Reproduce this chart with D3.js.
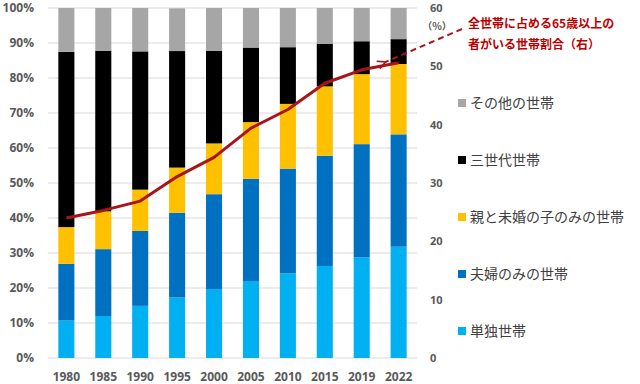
<!DOCTYPE html>
<html>
<head>
<meta charset="utf-8">
<script src="https://cdn.jsdelivr.net/npm/d3@7"></script>
<style>
  body { margin: 0; background: #fff; }
  svg { display: block; }
</style>
</head>
<body>
<svg id="chart" width="640" height="384"></svg>
<script>
const years = ["1980", "1985", "1990", "1995", "2000", "2005", "2010", "2015", "2019", "2022"]
const single = [10.7, 12.0, 14.9, 17.3, 19.7, 22.0, 24.2, 26.3, 28.8, 31.8]
const couple = [16.2, 19.1, 21.4, 24.2, 27.1, 29.2, 29.9, 31.5, 32.3, 32.1]
const parentChild = [10.5, 10.8, 11.8, 12.9, 14.5, 16.2, 18.5, 19.8, 20.0, 20.1]
const threeGen = [50.1, 45.9, 39.5, 33.3, 26.5, 21.3, 16.2, 12.2, 9.4, 7.1]
const other = [12.5, 12.2, 12.4, 12.2, 12.3, 11.3, 11.2, 10.2, 9.5, 9.0]
const elderShare = [24.0, 25.3, 26.9, 31.1, 34.4, 39.4, 42.6, 47.1, 49.4, 50.6]

const seriesKeys = ["single", "couple", "parentChild", "threeGen", "other"]
const seriesNames = ["単独世帯", "夫婦のみの世帯", "親と未婚の子のみの世帯", "三世代世帯", "その他の世帯"]
const seriesColors = ["#00b0f0", "#0070c0", "#ffc000", "#000000", "#a6a6a6"]
const leftTicks = [0, 10, 20, 30, 40, 50, 60, 70, 80, 90, 100]
const rightTicks = [0, 10, 20, 30, 40, 50, 60]

const rows = years.map((yr, i) => ({
    year: yr,
    single: single[i],
    couple: couple[i],
    parentChild: parentChild[i],
    threeGen: threeGen[i],
    other: other[i],
    share: elderShare[i]
}))

const svg = d3.select("#chart")
const plotLeft = 48, plotRight = 417, plotTop = 8, plotBottom = 358
const numFont = "'Open Sans', 'Noto Sans', sans-serif"
const jpFont = "'Noto Sans CJK JP', sans-serif"
const axisGrey = "#595959"

const x = d3.scaleBand().domain(years).range([plotLeft, plotRight]).paddingInner(0.565).paddingOuter(0.28)
const y = d3.scaleLinear().domain([0, 100]).range([plotBottom, plotTop])
const y2 = d3.scaleLinear().domain([0, 60]).range([plotBottom, plotTop])

// gridlines
svg.append("g")
    .selectAll("line")
    .data(leftTicks)
    .join("line")
    .attr("x1", plotLeft)
    .attr("x2", plotRight)
    .attr("y1", d => y(d))
    .attr("y2", d => y(d))
    .attr("stroke", "#d9d9d9")
    .attr("stroke-width", 1)

// stacked bars
const stacked = d3.stack().keys(seriesKeys)(rows)

svg.append("g")
    .selectAll("g")
    .data(stacked)
    .join("g")
    .attr("fill", (d, i) => seriesColors[i])
    .selectAll("rect")
    .data(d => d)
    .join("rect")
    .attr("x", d => x(d.data.year))
    .attr("width", x.bandwidth())
    .attr("y", d => y(Math.min(100, d[1])))
    .attr("height", d => y(d[0]) - y(Math.min(100, d[1])))

// left axis
const leftAxis = svg.append("g")
    .attr("transform", `translate(${plotLeft},0)`)
    .call(d3.axisLeft(y).tickValues(leftTicks).tickFormat(d => d + "%").tickSize(0).tickPadding(14))
leftAxis.select(".domain").remove()
leftAxis.selectAll("text")
    .attr("font-family", numFont)
    .attr("font-weight", "bold")
    .attr("font-size", 12)
    .attr("fill", axisGrey)

// right axis
const rightAxis = svg.append("g")
    .attr("transform", `translate(${plotRight},0)`)
    .call(d3.axisRight(y2).tickValues(rightTicks).tickSize(0).tickPadding(13))
rightAxis.select(".domain").remove()
rightAxis.selectAll("text")
    .attr("font-family", numFont)
    .attr("font-weight", "bold")
    .attr("font-size", 11)
    .attr("fill", axisGrey)

svg.append("text")
    .attr("x", 437)
    .attr("y", 30)
    .attr("text-anchor", "middle")
    .attr("font-family", jpFont)
    .attr("font-weight", "bold")
    .attr("font-size", 10)
    .attr("fill", axisGrey)
    .text("（%）")

// bottom axis
const bottomAxis = svg.append("g")
    .attr("transform", `translate(0,${plotBottom})`)
    .call(d3.axisBottom(x).tickSize(0).tickPadding(14))
bottomAxis.select(".domain").remove()
bottomAxis.selectAll("text")
    .attr("font-family", numFont)
    .attr("font-weight", "bold")
    .attr("font-size", 12)
    .attr("fill", axisGrey)

// share line
const line = d3.line()
    .x(d => x(d.year) + x.bandwidth() / 2)
    .y(d => y2(d.share))

svg.append("path")
    .datum(rows)
    .attr("d", line)
    .attr("fill", "none")
    .attr("stroke", "#a8141b")
    .attr("stroke-width", 3)
    .attr("stroke-linejoin", "round")

// annotation arrow
const last = rows[rows.length - 1]
const ax = x(last.year) + x.bandwidth() / 2 - 13, ay = y2(last.share) - 1
svg.append("defs").append("marker")
    .attr("id", "arrow")
    .attr("viewBox", "0 0 10 10")
    .attr("refX", 1)
    .attr("refY", 5)
    .attr("markerWidth", 5)
    .attr("markerHeight", 5)
    .attr("orient", "auto")
    .append("path")
    .attr("d", "M9,1 L1,5 L9,9")
    .attr("fill", "none")
    .attr("stroke", "#a8141b")
    .attr("stroke-width", 1.6)

svg.append("line")
    .attr("x1", 462)
    .attr("y1", 29)
    .attr("x2", ax)
    .attr("y2", ay)
    .attr("stroke", "#a8141b")
    .attr("stroke-width", 2)
    .attr("stroke-dasharray", "6,4")
    .attr("marker-end", "url(#arrow)")

svg.append("text")
    .attr("font-family", jpFont)
    .attr("font-weight", "bold")
    .attr("font-size", 12)
    .attr("fill", "#c00000")
    .selectAll("tspan")
    .data(["全世帯に占める65歳以上の", "者がいる世帯割合（右）"])
    .join("tspan")
    .attr("x", 468)
    .attr("y", (d, i) => 28 + i * 21)
    .text(d => d)

// legend (top to bottom: reverse stack order)
const legendY = [103, 160, 217, 274, 331]
const legend = svg.append("g")
    .selectAll("g")
    .data(seriesNames.map((n, i) => ({ name: n, color: seriesColors[i] })).reverse())
    .join("g")
    .attr("transform", (d, i) => `translate(458,${legendY[i]})`)

legend.append("rect")
    .attr("x", 0)
    .attr("y", -4)
    .attr("width", 8)
    .attr("height", 8)
    .attr("fill", d => d.color)

legend.append("text")
    .attr("x", 12)
    .attr("y", 5)
    .attr("font-family", jpFont)
    .attr("font-size", 14)
    .attr("fill", "#404040")
    .text(d => d.name)
</script>
</body>
</html>
